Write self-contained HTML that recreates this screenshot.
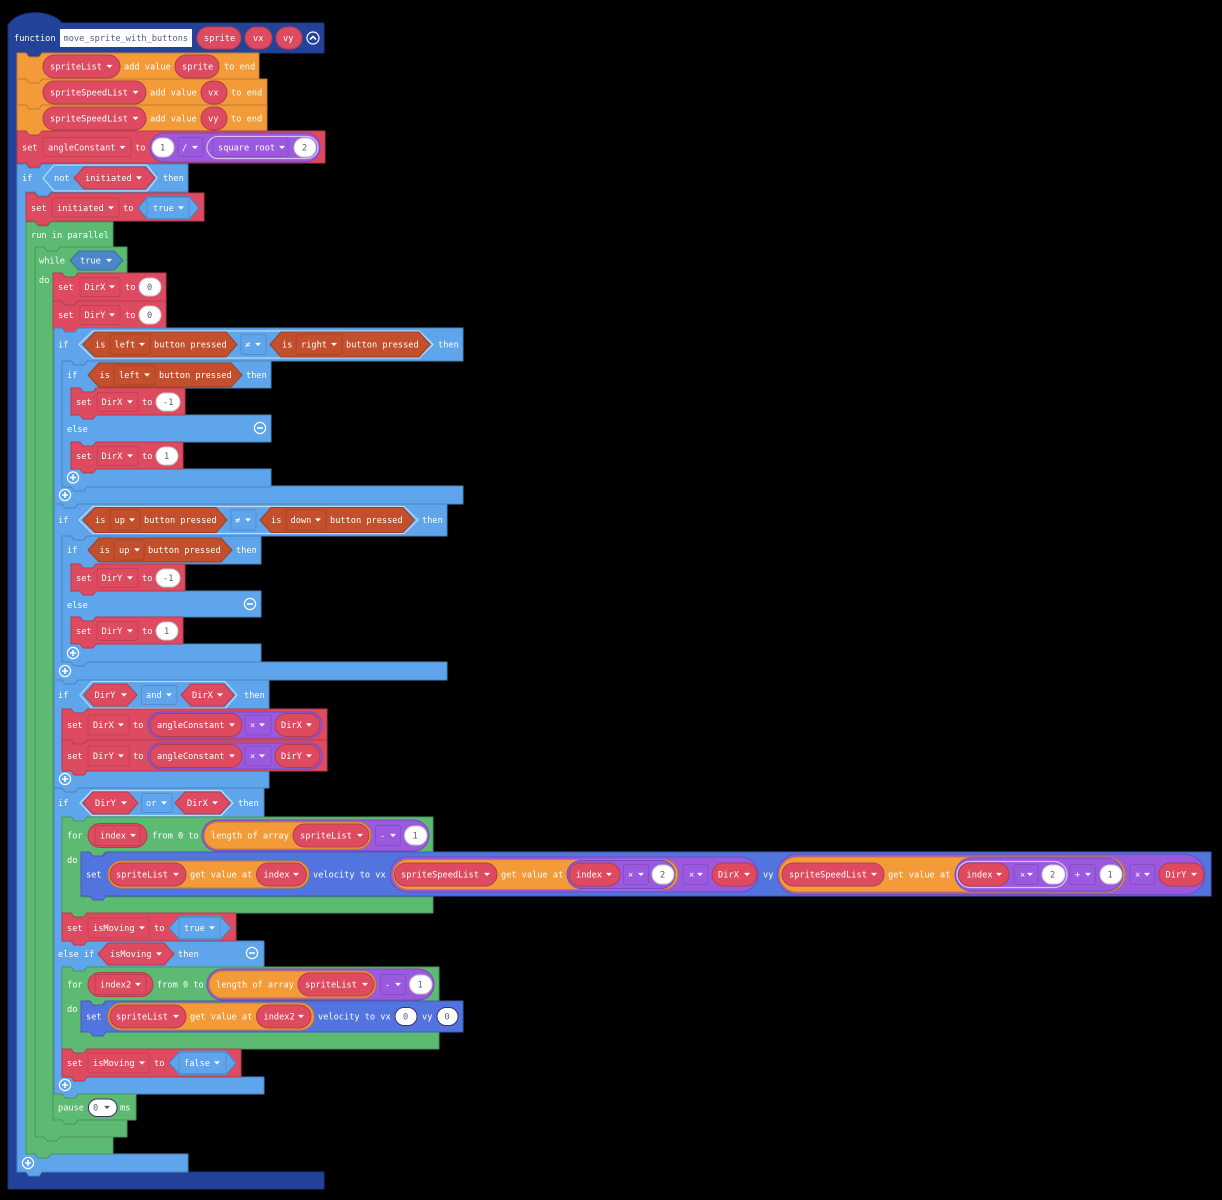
<!DOCTYPE html>
<html><head><meta charset="utf-8"><style>
html,body{margin:0;padding:0;background:#000}
svg{display:block}
text{font-family:"DejaVu Sans Mono","Liberation Mono",monospace;font-size:8.65px;fill:#fff;white-space:pre}
text.d{fill:#575E75}
path,polygon,rect{stroke-linejoin:round}
.F{fill:#23439B;stroke:#1B357C}
.O{fill:#F39B38;stroke:#C27C2D}
.R{fill:#DE4B61;stroke:#B23C4D}
.B{fill:#5EA5EC;stroke:#4B84BE}
.G{fill:#5CBA72;stroke:#4A955B}
.V{fill:#5274DF;stroke:#425DB2}
.P{fill:#9B59E0;stroke:#7C47B3}
.P2{fill:#9B59E0;stroke:#6D4DC0}
.Pl{fill:#9B59E0;stroke:#D6BFF3;stroke-width:1.3}
.Y{fill:#C44F2C;stroke:#9D3F23}
.w{fill:#fff;stroke:#C8C8C8}
.wd{fill:#fff;stroke:#3C2F6E}
.f{fill:none;stroke:rgba(0,0,0,.13)}
.l{fill:#5EA5EC;stroke:#BBD9F7;stroke-width:1.3}
.b2{fill:#5EA5EC;stroke:#4B84BE}
.b3{fill:#4C87C9;stroke:#3D6CA1}
.nf{fill:none;stroke:#fff;stroke-width:1.2}
.nl{fill:none;stroke:#fff;stroke-width:1.6}
</style></head><body>
<svg width="1222" height="1200" viewBox="0 0 1222 1200" xmlns="http://www.w3.org/2000/svg">
<defs>
<polygon id="a" points="-3,-1.6 3,-1.6 0,1.6" fill="#fff"/>
<g id="plus"><circle r="5.6" class="nf"/><path class="nl" d="M-3 0H3M0-3V3"/></g>
<g id="minus"><circle r="5.6" class="nf"/><path class="nl" d="M-3 0H3"/></g>
</defs>
<rect width="1222" height="1200" fill="#000"/>

<!-- function -->
<path class="F" d="M8 25C18 9 50 9 62 23H324V53H42l-3 4H29l-3-4H17V1172H324V1189H8Z"/>
<g transform="translate(0,38)">
<text x="14" y="3">function</text>
<rect x="60" y="-9" width="132" height="18" fill="#fff"/>
<text class="d" x="63.5" y="3">move_sprite_with_buttons</text>
<rect class="R" x="197" y="-11" width="44" height="22" rx="11"/><text x="204" y="3">sprite</text>
<rect class="R" x="245" y="-11" width="27" height="22" rx="11"/><text x="253" y="3">vx</text>
<rect class="R" x="276" y="-11" width="26" height="22" rx="11"/><text x="283" y="3">vy</text>
<circle cx="313" cy="0" r="6" class="nf"/><path class="nl" d="M310 1.5L313-1.5L316 1.5"/>
</g>

<!-- orange list blocks -->
<path class="O" d="M17 53h9l3 4h10l3-4H259V79H42l-3 4H29l-3-4H17Z"/>
<g transform="translate(0,66.5)">
<rect class="R" x="43" y="-11.5" width="77" height="23" rx="11.5"/><text x="50" y="3">spriteList</text><use href="#a" x="109.5"/>
<text x="124" y="3">add value</text>
<rect class="R" x="175" y="-11.5" width="44" height="23" rx="11.5"/><text x="182" y="3">sprite</text>
<text x="224" y="3">to end</text>
</g>
<path class="O" d="M17 79h9l3 4h10l3-4H267V105H42l-3 4H29l-3-4H17Z"/>
<g transform="translate(0,92.5)">
<rect class="R" x="43" y="-11.5" width="103" height="23" rx="11.5"/><text x="50" y="3">spriteSpeedList</text><use href="#a" x="135.5"/>
<text x="150" y="3">add value</text>
<rect class="R" x="201" y="-11.5" width="26" height="23" rx="11.5"/><text x="208" y="3">vx</text>
<text x="231" y="3">to end</text>
</g>
<path class="O" d="M17 105h9l3 4h10l3-4H267V131H42l-3 4H29l-3-4H17Z"/>
<g transform="translate(0,118.5)">
<rect class="R" x="43" y="-11.5" width="103" height="23" rx="11.5"/><text x="50" y="3">spriteSpeedList</text><use href="#a" x="135.5"/>
<text x="150" y="3">add value</text>
<rect class="R" x="201" y="-11.5" width="26" height="23" rx="11.5"/><text x="208" y="3">vy</text>
<text x="231" y="3">to end</text>
</g>

<!-- set angleConstant -->
<path class="R" d="M17 131h9l3 4h10l3-4H325V163H42l-3 4H29l-3-4H17Z"/>
<g transform="translate(0,147.5)">
<text x="22" y="3">set</text>
<rect class="f" x="43" y="-10" width="88" height="19" rx="2"/><text x="48" y="3">angleConstant</text><use href="#a" x="122.5"/>
<text x="135" y="3">to</text>
<rect class="P" x="150" y="-14.5" width="170" height="29" rx="14.5"/>
<rect class="w" x="152" y="-9.5" width="22" height="19" rx="9.5"/><text class="d" x="160" y="3">1</text>
<rect class="f" x="178" y="-10" width="25" height="19" rx="2"/><text x="182" y="3">/</text><use href="#a" x="195"/>
<rect class="Pl" x="207" y="-11" width="111" height="22" rx="11"/>
<rect class="f" x="213" y="-10" width="75" height="19" rx="2"/><text x="218" y="3">square root</text><use href="#a" x="282"/>
<rect class="w" x="294" y="-9.5" width="22" height="19" rx="9.5"/><text class="d" x="302" y="3">2</text>
</g>

<!-- if not initiated -->
<path class="B" d="M17 164h9l3 4h10l3-4H188V192H51l-3 4H38l-3-4H26V1154H188V1172H42l-3 4H29l-3-4H17Z"/>
<g transform="translate(0,178)">
<text x="22" y="3">if</text>
<polygon class="l" points="43,0 54,-13 147,-13 157,0 147,13 54,13"/>
<text x="54" y="3">not</text>
<polygon class="R" points="74,0 84,-11 145,-11 155,0 145,11 84,11"/>
<text x="85" y="3">initiated</text><use href="#a" x="139"/>
<text x="163" y="3">then</text>
</g>

<!-- set initiated -->
<path class="R" d="M26 193h9l3 4h10l3-4H204V221H51l-3 4H38l-3-4H26Z"/>
<g transform="translate(0,208)">
<text x="31" y="3">set</text>
<rect class="f" x="52" y="-10" width="67" height="19" rx="2"/><text x="57" y="3">initiated</text><use href="#a" x="111"/>
<text x="123" y="3">to</text>
<polygon class="b2" points="138,0 148,-11.5 189,-11.5 199,0 189,11.5 148,11.5"/>
<rect class="f" x="147" y="-10.5" width="42" height="21" rx="2"/>
<text x="153" y="3">true</text><use href="#a" x="181"/>
</g>

<!-- run in parallel -->
<path class="G" d="M26 222h9l3 4h10l3-4H113V247H60l-3 4H47l-3-4H35V1137H113V1154H51l-3 4H38l-3-4H26Z"/>
<text x="31" y="238">run in parallel</text>

<!-- while -->
<path class="G" d="M35 247h9l3 4h10l3-4H127V273H78l-3 4H65l-3-4H53V1120H127V1137H60l-3 4H47l-3-4H35Z"/>
<g transform="translate(0,260.5)">
<text x="39" y="3">while</text>
<polygon class="b3" points="70,0 79,-9.5 114,-9.5 123,0 114,9.5 79,9.5"/>
<text x="80" y="3">true</text><use href="#a" x="109"/>
</g>
<text x="39" y="283">do</text>

<!-- set DirX / DirY 0 -->
<path class="R" d="M53 273h9l3 4h10l3-4H166V301H78l-3 4H65l-3-4H53Z"/>
<g transform="translate(0,287)">
<text x="58" y="3">set</text>
<rect class="f" x="80" y="-9.5" width="40" height="19" rx="2"/><text x="84.5" y="3">DirX</text><use href="#a" x="112"/>
<text x="125" y="3">to</text>
<rect class="w" x="139" y="-9" width="22" height="18" rx="9"/><text class="d" x="147" y="3">0</text>
</g>
<path class="R" d="M53 301h9l3 4h10l3-4H166V329H78l-3 4H65l-3-4H53Z"/>
<g transform="translate(0,315)">
<text x="58" y="3">set</text>
<rect class="f" x="80" y="-9.5" width="40" height="19" rx="2"/><text x="84.5" y="3">DirY</text><use href="#a" x="112"/>
<text x="125" y="3">to</text>
<rect class="w" x="139" y="-9" width="22" height="18" rx="9"/><text class="d" x="147" y="3">0</text>
</g>

<!-- if 1 -->
<path class="B" d="M54 328h8l3 4h10l3-4H463V361H87l-3 4H74l-3-4H62V486H463V504H78l-3 4H65l-3-4H54Z"/>
<g transform="translate(0,344.5)">
<text x="58" y="3">if</text>
<polygon class="l" points="79,0 93,-13.5 419,-13.5 433,0 419,13.5 93,13.5"/>
<polygon class="Y" points="83,0 95,-12.5 226,-12.5 237,0 226,12.5 95,12.5"/>
<text x="95" y="3">is</text>
<rect class="f" x="110" y="-10" width="40" height="20" rx="2"/><text x="114.5" y="3">left</text><use href="#a" x="142"/>
<text x="154" y="3">button pressed</text>
<rect class="f" x="241" y="-10" width="25" height="20" rx="2"/><text x="245" y="3">≠</text><use href="#a" x="258"/>
<polygon class="Y" points="270,0 281,-12.5 419,-12.5 430,0 419,12.5 281,12.5"/>
<text x="282" y="3">is</text>
<rect class="f" x="296" y="-10" width="46" height="20" rx="2"/><text x="301" y="3">right</text><use href="#a" x="334"/>
<text x="346" y="3">button pressed</text>
<text x="438" y="3">then</text>
</g>

<path class="B" d="M62 361h9l3 4h10l3-4H271V388H96l-3 4H83l-3-4H71V415H271V442H96l-3 4H83l-3-4H71V469H271V487H87l-3 4H74l-3-4H62Z"/>
<g transform="translate(0,375)">
<text x="67" y="3">if</text>
<polygon class="Y" points="88,0 99,-12 231,-12 242,0 231,12 99,12"/>
<text x="99.5" y="3">is</text>
<rect class="f" x="114" y="-10" width="41" height="20" rx="2"/><text x="119" y="3">left</text><use href="#a" x="147"/>
<text x="159" y="3">button pressed</text>
<text x="246" y="3">then</text>
</g>
<path class="R" d="M71 388h9l3 4h10l3-4H185V415H96l-3 4H83l-3-4H71Z"/>
<g transform="translate(0,402)">
<text x="76" y="3">set</text>
<rect class="f" x="97" y="-9.5" width="41" height="19" rx="2"/><text x="101.5" y="3">DirX</text><use href="#a" x="130"/>
<text x="142" y="3">to</text>
<rect class="w" x="156" y="-9" width="24" height="18" rx="9"/><text class="d" x="163" y="3">-1</text>
</g>
<text x="67" y="432">else</text>
<use href="#minus" x="260" y="428"/>
<path class="R" d="M71 442h9l3 4h10l3-4H183V469H96l-3 4H83l-3-4H71Z"/>
<g transform="translate(0,456)">
<text x="76" y="3">set</text>
<rect class="f" x="97" y="-9.5" width="41" height="19" rx="2"/><text x="101.5" y="3">DirX</text><use href="#a" x="130"/>
<text x="142" y="3">to</text>
<rect class="w" x="156" y="-9" width="22" height="18" rx="9"/><text class="d" x="164" y="3">1</text>
</g>
<use href="#plus" x="73" y="477.5"/>
<use href="#plus" x="65" y="495"/>

<!-- if 2 -->
<path class="B" d="M54 504h8l3 4h10l3-4H447V536H87l-3 4H74l-3-4H62V662H447V680H78l-3 4H65l-3-4H54Z"/>
<g transform="translate(0,520)">
<text x="58" y="3">if</text>
<polygon class="l" points="79,0 93,-13.5 404,-13.5 418,0 404,13.5 93,13.5"/>
<polygon class="Y" points="83,0 95,-12.5 216,-12.5 227,0 216,12.5 95,12.5"/>
<text x="95" y="3">is</text>
<rect class="f" x="110" y="-10" width="30" height="20" rx="2"/><text x="114.5" y="3">up</text><use href="#a" x="132"/>
<text x="144" y="3">button pressed</text>
<rect class="f" x="231" y="-10" width="25" height="20" rx="2"/><text x="235" y="3">≠</text><use href="#a" x="248"/>
<polygon class="Y" points="260,0 271,-12.5 403,-12.5 414,0 403,12.5 271,12.5"/>
<text x="271" y="3">is</text>
<rect class="f" x="286" y="-10" width="40" height="20" rx="2"/><text x="290.5" y="3">down</text><use href="#a" x="318"/>
<text x="330" y="3">button pressed</text>
<text x="422" y="3">then</text>
</g>
<path class="B" d="M62 536h9l3 4h10l3-4H261V564H96l-3 4H83l-3-4H71V591H261V617H96l-3 4H83l-3-4H71V644H261V662H87l-3 4H74l-3-4H62Z"/>
<g transform="translate(0,550)">
<text x="67" y="3">if</text>
<polygon class="Y" points="88,0 99,-12 221,-12 232,0 221,12 99,12"/>
<text x="99.5" y="3">is</text>
<rect class="f" x="114" y="-10" width="30" height="20" rx="2"/><text x="119" y="3">up</text><use href="#a" x="137"/>
<text x="148" y="3">button pressed</text>
<text x="236" y="3">then</text>
</g>
<path class="R" d="M71 564h9l3 4h10l3-4H185V591H96l-3 4H83l-3-4H71Z"/>
<g transform="translate(0,578)">
<text x="76" y="3">set</text>
<rect class="f" x="97" y="-9.5" width="41" height="19" rx="2"/><text x="101.5" y="3">DirY</text><use href="#a" x="130"/>
<text x="142" y="3">to</text>
<rect class="w" x="156" y="-9" width="24" height="18" rx="9"/><text class="d" x="163" y="3">-1</text>
</g>
<text x="67" y="608">else</text>
<use href="#minus" x="250" y="604"/>
<path class="R" d="M71 617h9l3 4h10l3-4H183V644H96l-3 4H83l-3-4H71Z"/>
<g transform="translate(0,631)">
<text x="76" y="3">set</text>
<rect class="f" x="97" y="-9.5" width="41" height="19" rx="2"/><text x="101.5" y="3">DirY</text><use href="#a" x="130"/>
<text x="142" y="3">to</text>
<rect class="w" x="156" y="-9" width="22" height="18" rx="9"/><text class="d" x="164" y="3">1</text>
</g>
<use href="#plus" x="73" y="653"/>
<use href="#plus" x="65" y="671"/>

<!-- if 3 -->
<path class="B" d="M54 680h8l3 4h10l3-4H269V710H87l-3 4H74l-3-4H62V771H269V788H78l-3 4H65l-3-4H54Z"/>
<g transform="translate(0,695)">
<text x="58" y="3">if</text>
<polygon class="l" points="80,0 92,-13.5 225,-13.5 237,0 225,13.5 92,13.5"/>
<polygon class="R" points="84,0 94,-11 127,-11 137,0 127,11 94,11"/>
<text x="94.5" y="3">DirY</text><use href="#a" x="124"/>
<rect class="f" x="141.5" y="-9.5" width="35.5" height="19" rx="2"/><text x="146" y="3">and</text><use href="#a" x="169"/>
<polygon class="R" points="181,0 191,-11 224,-11 234,0 224,11 191,11"/>
<text x="192" y="3">DirX</text><use href="#a" x="220"/>
<text x="244" y="3">then</text>
</g>
<path class="R" d="M62 709h9l3 4h10l3-4H327V740H87l-3 4H74l-3-4H62Z"/>
<g transform="translate(0,725)">
<text x="67" y="3">set</text>
<rect class="f" x="88" y="-10" width="41" height="20" rx="2"/><text x="93" y="3">DirX</text><use href="#a" x="121"/>
<text x="133" y="3">to</text>
<rect class="P2" x="148" y="-13" width="174" height="26" rx="13"/>
<rect class="R" x="150" y="-11.5" width="92" height="23" rx="11.5"/><text x="157" y="3">angleConstant</text><use href="#a" x="232"/>
<rect class="f" x="245" y="-10" width="26" height="20" rx="2"/><text x="250" y="3">×</text><use href="#a" x="262"/>
<rect class="R" x="275" y="-11.5" width="45" height="23" rx="11.5"/><text x="281" y="3">DirX</text><use href="#a" x="309"/>
</g>
<path class="R" d="M62 740h9l3 4h10l3-4H327V771H87l-3 4H74l-3-4H62Z"/>
<g transform="translate(0,756)">
<text x="67" y="3">set</text>
<rect class="f" x="88" y="-10" width="41" height="20" rx="2"/><text x="93" y="3">DirY</text><use href="#a" x="121"/>
<text x="133" y="3">to</text>
<rect class="P2" x="148" y="-13" width="174" height="26" rx="13"/>
<rect class="R" x="150" y="-11.5" width="92" height="23" rx="11.5"/><text x="157" y="3">angleConstant</text><use href="#a" x="232"/>
<rect class="f" x="245" y="-10" width="26" height="20" rx="2"/><text x="250" y="3">×</text><use href="#a" x="262"/>
<rect class="R" x="275" y="-11.5" width="45" height="23" rx="11.5"/><text x="281" y="3">DirY</text><use href="#a" x="309"/>
</g>
<use href="#plus" x="65" y="779"/>

<!-- if 4 -->
<path class="B" d="M54 788h8l3 4h10l3-4H264V817H87l-3 4H74l-3-4H62V941H264V967H87l-3 4H74l-3-4H62V1077H264V1094H78l-3 4H65l-3-4H54Z"/>
<g transform="translate(0,803)">
<text x="58" y="3">if</text>
<polygon class="l" points="80,0 92,-12.5 221,-12.5 233,0 221,12.5 92,12.5"/>
<polygon class="R" points="83,0 93,-11 128,-11 138,0 128,11 93,11"/>
<text x="95" y="3">DirY</text><use href="#a" x="124"/>
<rect class="f" x="141.5" y="-9.5" width="30.5" height="19" rx="2"/><text x="146" y="3">or</text><use href="#a" x="164"/>
<polygon class="R" points="175,0 185,-11 220,-11 230,0 220,11 185,11"/>
<text x="187" y="3">DirX</text><use href="#a" x="215"/>
<text x="238" y="3">then</text>
</g>

<!-- for 1 -->
<path class="G" d="M62 817h9l3 4h10l3-4H433V852H105l-3 4H92l-3-4H81V897H433V913H87l-3 4H74l-3-4H62Z"/>
<g transform="translate(0,835.5)">
<text x="67" y="3">for</text>
<rect class="R" x="88" y="-12" width="59" height="24" rx="12"/>
<rect class="f" x="95" y="-10" width="45" height="20" rx="2"/><text x="100" y="3">index</text><use href="#a" x="133"/>
<text x="152" y="3">from 0 to</text>
<rect class="P" x="202" y="-15.5" width="227" height="31" rx="15.5"/>
<rect class="O" x="204" y="-13.5" width="167" height="27" rx="13.5"/>
<text x="211" y="3">length of array</text>
<rect class="R" x="293" y="-11.5" width="76" height="23" rx="11.5"/><text x="300" y="3">spriteList</text><use href="#a" x="360"/>
<rect class="f" x="375.5" y="-10" width="25" height="20" rx="2"/><text x="380" y="3">-</text><use href="#a" x="393"/>
<rect class="w" x="404.5" y="-9.5" width="22.5" height="19" rx="9.5"/><text class="d" x="412.5" y="3">1</text>
</g>
<text x="67" y="863">do</text>

<!-- velocity 1 -->
<path class="V" d="M81 852h9l3 4h10l3-4H1211V896H106l-3 4H93l-3-4H81Z"/>
<g transform="translate(0,874.5)">
<text x="86" y="3">set</text>
<rect class="O" x="108" y="-13.5" width="201" height="27" rx="13.5"/>
<rect class="R" x="110" y="-11.5" width="76" height="23" rx="11.5"/><text x="116" y="3">spriteList</text><use href="#a" x="176"/>
<text x="190" y="3">get value at</text>
<rect class="R" x="256.5" y="-11.5" width="50" height="23" rx="11.5"/><text x="263.5" y="3">index</text><use href="#a" x="296"/>
<text x="313" y="3">velocity to vx</text>

<rect class="P2" x="390" y="-17.5" width="368" height="35" rx="17.5"/>
<rect class="O" x="393" y="-15" width="285" height="30" rx="15"/>
<rect class="R" x="394.5" y="-11.5" width="102.5" height="23" rx="11.5"/><text x="401" y="3">spriteSpeedList</text><use href="#a" x="487"/>
<text x="501" y="3">get value at</text>
<rect class="P2" x="567" y="-14" width="108" height="28" rx="14"/>
<rect class="R" x="569" y="-11.5" width="51" height="23" rx="11.5"/><text x="576" y="3">index</text><use href="#a" x="609"/>
<rect class="f" x="623.5" y="-10" width="25" height="20" rx="2"/><text x="628" y="3">×</text><use href="#a" x="641"/>
<rect class="w" x="652" y="-9.5" width="22" height="19" rx="9.5"/><text class="d" x="660" y="3">2</text>
<rect class="f" x="683" y="-10" width="25" height="20" rx="2"/><text x="689" y="3">×</text><use href="#a" x="700"/>
<rect class="R" x="712" y="-11.5" width="45" height="23" rx="11.5"/><text x="718" y="3">DirX</text><use href="#a" x="747"/>
<text x="763" y="3">vy</text>

<rect class="P2" x="777" y="-20" width="428" height="40" rx="20"/>
<rect class="O" x="779" y="-17.5" width="346" height="35" rx="17.5"/>
<rect class="R" x="782" y="-11.5" width="102" height="23" rx="11.5"/><text x="789" y="3">spriteSpeedList</text><use href="#a" x="874"/>
<text x="888" y="3">get value at</text>
<rect class="P2" x="955" y="-16.5" width="168" height="33" rx="16.5"/>
<rect class="Pl" x="957" y="-13" width="110" height="26" rx="13"/>
<rect class="R" x="958.5" y="-11.5" width="50.5" height="23" rx="11.5"/><text x="966.5" y="3">index</text><use href="#a" x="999"/>
<rect class="f" x="1014" y="-10" width="24" height="20" rx="2"/><text x="1020" y="3">×</text><use href="#a" x="1030"/>
<rect class="w" x="1042" y="-9.5" width="23" height="19" rx="9.5"/><text class="d" x="1050" y="3">2</text>
<rect class="f" x="1070" y="-10" width="25.5" height="20" rx="2"/><text x="1075" y="3">+</text><use href="#a" x="1088"/>
<rect class="w" x="1100" y="-9.5" width="22" height="19" rx="9.5"/><text class="d" x="1107.5" y="3">1</text>
<rect class="f" x="1130" y="-10" width="25" height="20" rx="2"/><text x="1135" y="3">×</text><use href="#a" x="1147"/>
<rect class="R" x="1159" y="-11.5" width="45" height="23" rx="11.5"/><text x="1165.5" y="3">DirY</text><use href="#a" x="1194"/>
</g>

<!-- set isMoving true -->
<path class="R" d="M62 913h9l3 4h10l3-4H236V941H87l-3 4H74l-3-4H62Z"/>
<g transform="translate(0,928)">
<text x="67" y="3">set</text>
<rect class="f" x="88" y="-10" width="61" height="20" rx="2"/><text x="93" y="3">isMoving</text><use href="#a" x="142"/>
<text x="154" y="3">to</text>
<polygon class="b2" points="169,0 180,-12 220,-12 231,0 220,12 180,12"/>
<rect class="f" x="179" y="-10.5" width="41" height="21" rx="2"/><text x="184" y="3">true</text><use href="#a" x="212"/>
</g>

<!-- else if -->
<g transform="translate(0,954)">
<text x="58" y="3">else if</text>
<polygon class="R" points="98,0 108,-11 164,-11 174,0 164,11 108,11"/>
<text x="110" y="3">isMoving</text><use href="#a" x="159"/>
<text x="178" y="3">then</text>
<use href="#minus" x="252" y="-1"/>
</g>

<!-- for 2 -->
<path class="G" d="M62 967h9l3 4h10l3-4H439V1001H105l-3 4H92l-3-4H81V1032H439V1049H87l-3 4H74l-3-4H62Z"/>
<g transform="translate(0,984.5)">
<text x="67" y="3">for</text>
<rect class="R" x="88" y="-12" width="65" height="24" rx="12"/>
<rect class="f" x="95" y="-10" width="51" height="20" rx="2"/><text x="100" y="3">index2</text><use href="#a" x="138"/>
<text x="157" y="3">from 0 to</text>
<rect class="P" x="207" y="-15.5" width="227" height="31" rx="15.5"/>
<rect class="O" x="209" y="-13.5" width="167" height="27" rx="13.5"/>
<text x="216" y="3">length of array</text>
<rect class="R" x="298" y="-11.5" width="76" height="23" rx="11.5"/><text x="305" y="3">spriteList</text><use href="#a" x="365"/>
<rect class="f" x="380.5" y="-10" width="25" height="20" rx="2"/><text x="385" y="3">-</text><use href="#a" x="398"/>
<rect class="w" x="409.5" y="-9.5" width="22.5" height="19" rx="9.5"/><text class="d" x="417.5" y="3">1</text>
</g>
<text x="67" y="1012">do</text>

<!-- velocity 2 -->
<path class="V" d="M81 1001h9l3 4h10l3-4H463V1032H106l-3 4H93l-3-4H81Z"/>
<g transform="translate(0,1016.5)">
<text x="86" y="3">set</text>
<rect class="O" x="108" y="-13.5" width="206" height="27" rx="13.5"/>
<rect class="R" x="110" y="-11.5" width="76" height="23" rx="11.5"/><text x="116" y="3">spriteList</text><use href="#a" x="176"/>
<text x="190" y="3">get value at</text>
<rect class="R" x="256.5" y="-11.5" width="54.5" height="23" rx="11.5"/><text x="263.5" y="3">index2</text><use href="#a" x="301"/>
<text x="318" y="3">velocity to vx</text>
<rect class="wd" x="395" y="-9" width="22" height="18" rx="9"/><text class="d" x="403" y="3">0</text>
<text x="422" y="3">vy</text>
<rect class="wd" x="437" y="-9" width="21" height="18" rx="9"/><text class="d" x="444.5" y="3">0</text>
</g>

<!-- set isMoving false -->
<path class="R" d="M62 1049h9l3 4h10l3-4H241V1077H87l-3 4H74l-3-4H62Z"/>
<g transform="translate(0,1063)">
<text x="67" y="3">set</text>
<rect class="f" x="88" y="-10" width="61" height="20" rx="2"/><text x="93" y="3">isMoving</text><use href="#a" x="142"/>
<text x="154" y="3">to</text>
<polygon class="b2" points="169,0 180,-12 226,-12 236,0 226,12 180,12"/>
<rect class="f" x="179" y="-10.5" width="47" height="21" rx="2"/><text x="184" y="3">false</text><use href="#a" x="217"/>
</g>
<use href="#plus" x="65" y="1085"/>

<!-- pause -->
<path class="G" d="M53 1094h9l3 4h10l3-4H136V1120H78l-3 4H65l-3-4H53Z"/>
<g transform="translate(0,1107.5)">
<text x="58" y="3">pause</text>
<rect class="wd" x="88.5" y="-8.5" width="28.5" height="17.5" rx="8.5"/><text class="d" x="93" y="3">0</text>
<polygon points="104,-1.6 110,-1.6 107,1.6" fill="#575E75"/>
<text x="120" y="3">ms</text>
</g>

<use href="#plus" x="28" y="1163"/>
</svg>
</body></html>
